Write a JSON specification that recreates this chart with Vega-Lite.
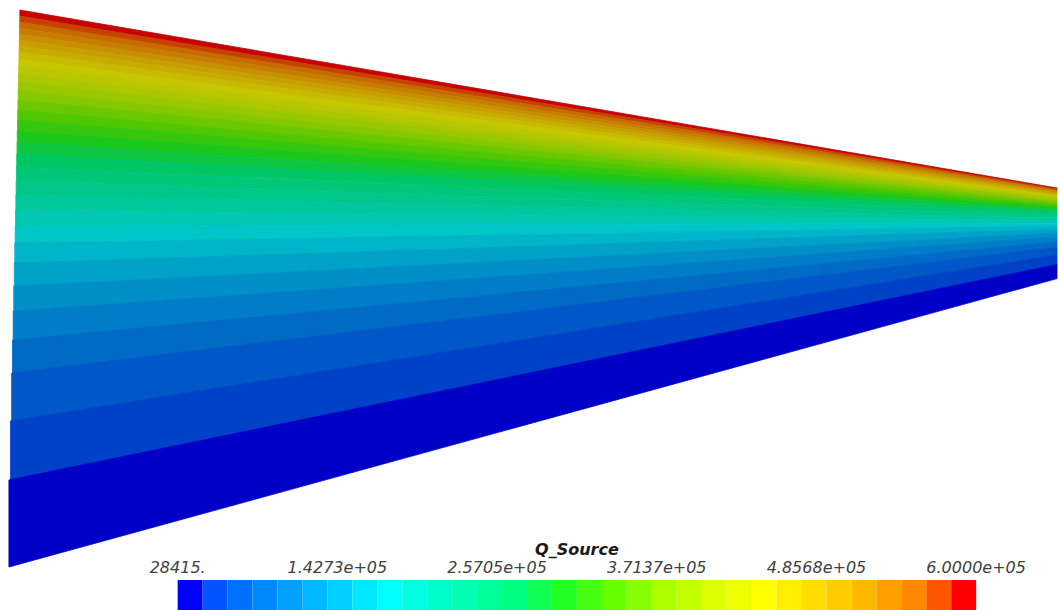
{
  "$schema": "https://vega.github.io/schema/vega-lite/v6.json",
  "width": 1059,
  "height": 610,
  "autosize": {"type": "fit", "contains": "padding"},
  "padding": 0,
  "background": "white",
  "config": {"view": {"stroke": null}},
  "datasets": {
    "bands": [
      {"level": 31, "x": 19.94, "top": 10, "bottom": 16}, {"level": 31, "x": 1059, "top": 188.0, "bottom": 188.98},
      {"level": 30, "x": 19.81, "top": 16, "bottom": 22}, {"level": 30, "x": 1059, "top": 188.98, "bottom": 189.95},
      {"level": 29, "x": 19.68, "top": 22, "bottom": 28}, {"level": 29, "x": 1059, "top": 189.95, "bottom": 190.93},
      {"level": 28, "x": 19.55, "top": 28, "bottom": 34}, {"level": 28, "x": 1059, "top": 190.93, "bottom": 191.9},
      {"level": 27, "x": 19.42, "top": 34, "bottom": 40}, {"level": 27, "x": 1059, "top": 191.9, "bottom": 192.88},
      {"level": 26, "x": 19.29, "top": 40, "bottom": 46}, {"level": 26, "x": 1059, "top": 192.88, "bottom": 193.86},
      {"level": 25, "x": 19.16, "top": 46, "bottom": 52}, {"level": 25, "x": 1059, "top": 193.86, "bottom": 194.83},
      {"level": 24, "x": 19.02, "top": 52, "bottom": 59}, {"level": 24, "x": 1059, "top": 194.83, "bottom": 195.97},
      {"level": 23, "x": 18.87, "top": 59, "bottom": 66}, {"level": 23, "x": 1059, "top": 195.97, "bottom": 197.11},
      {"level": 22, "x": 18.71, "top": 66, "bottom": 74}, {"level": 22, "x": 1059, "top": 197.11, "bottom": 198.41},
      {"level": 21, "x": 18.53, "top": 74, "bottom": 82}, {"level": 21, "x": 1059, "top": 198.41, "bottom": 199.71},
      {"level": 20, "x": 18.35, "top": 82, "bottom": 91}, {"level": 20, "x": 1059, "top": 199.71, "bottom": 201.18},
      {"level": 19, "x": 18.16, "top": 91, "bottom": 100}, {"level": 19, "x": 1059, "top": 201.18, "bottom": 202.64},
      {"level": 18, "x": 17.95, "top": 100, "bottom": 110}, {"level": 18, "x": 1059, "top": 202.64, "bottom": 204.27},
      {"level": 17, "x": 17.74, "top": 110, "bottom": 120}, {"level": 17, "x": 1059, "top": 204.27, "bottom": 205.89},
      {"level": 16, "x": 17.51, "top": 120, "bottom": 131}, {"level": 16, "x": 1059, "top": 205.89, "bottom": 207.68},
      {"level": 15, "x": 17.27, "top": 131, "bottom": 142}, {"level": 15, "x": 1059, "top": 207.68, "bottom": 209.47},
      {"level": 14, "x": 17.03, "top": 142, "bottom": 154}, {"level": 14, "x": 1059, "top": 209.47, "bottom": 211.42},
      {"level": 13, "x": 16.76, "top": 154, "bottom": 167}, {"level": 13, "x": 1059, "top": 211.42, "bottom": 213.54},
      {"level": 12, "x": 16.47, "top": 167, "bottom": 181}, {"level": 12, "x": 1059, "top": 213.54, "bottom": 215.81},
      {"level": 11, "x": 16.17, "top": 181, "bottom": 195}, {"level": 11, "x": 1059, "top": 215.81, "bottom": 218.09},
      {"level": 10, "x": 15.85, "top": 195, "bottom": 210}, {"level": 10, "x": 1059, "top": 218.09, "bottom": 220.53},
      {"level": 9, "x": 15.52, "top": 210, "bottom": 226}, {"level": 9, "x": 1059, "top": 220.53, "bottom": 223.13},
      {"level": 8, "x": 15.16, "top": 226, "bottom": 243}, {"level": 8, "x": 1059, "top": 223.13, "bottom": 225.9},
      {"level": 7, "x": 14.76, "top": 243, "bottom": 263}, {"level": 7, "x": 1059, "top": 225.9, "bottom": 229.15},
      {"level": 6, "x": 14.3, "top": 263, "bottom": 286}, {"level": 6, "x": 1059, "top": 229.15, "bottom": 232.89},
      {"level": 5, "x": 13.78, "top": 286, "bottom": 311}, {"level": 5, "x": 1059, "top": 232.89, "bottom": 236.96},
      {"level": 4, "x": 13.2, "top": 311, "bottom": 340}, {"level": 4, "x": 1059, "top": 236.96, "bottom": 241.68},
      {"level": 3, "x": 12.54, "top": 340, "bottom": 373}, {"level": 3, "x": 1059, "top": 241.68, "bottom": 247.05},
      {"level": 2, "x": 11.66, "top": 373, "bottom": 421}, {"level": 2, "x": 1059, "top": 247.05, "bottom": 254.85},
      {"level": 1, "x": 10.51, "top": 421, "bottom": 480}, {"level": 1, "x": 1059, "top": 254.85, "bottom": 264.45},
      {"level": 0, "x": 8.94, "top": 480, "bottom": 567}, {"level": 0, "x": 1059, "top": 264.45, "bottom": 278.6}
    ],
    "cells": [
      {"level": 0, "lo": 28415, "hi": 46277.03},
      {"level": 1, "lo": 46277.03, "hi": 64139.06},
      {"level": 2, "lo": 64139.06, "hi": 82001.09},
      {"level": 3, "lo": 82001.09, "hi": 99863.13},
      {"level": 4, "lo": 99863.13, "hi": 117725.16},
      {"level": 5, "lo": 117725.16, "hi": 135587.19},
      {"level": 6, "lo": 135587.19, "hi": 153449.22},
      {"level": 7, "lo": 153449.22, "hi": 171311.25},
      {"level": 8, "lo": 171311.25, "hi": 189173.28},
      {"level": 9, "lo": 189173.28, "hi": 207035.31},
      {"level": 10, "lo": 207035.31, "hi": 224897.34},
      {"level": 11, "lo": 224897.34, "hi": 242759.38},
      {"level": 12, "lo": 242759.38, "hi": 260621.41},
      {"level": 13, "lo": 260621.41, "hi": 278483.44},
      {"level": 14, "lo": 278483.44, "hi": 296345.47},
      {"level": 15, "lo": 296345.47, "hi": 314207.5},
      {"level": 16, "lo": 314207.5, "hi": 332069.53},
      {"level": 17, "lo": 332069.53, "hi": 349931.56},
      {"level": 18, "lo": 349931.56, "hi": 367793.59},
      {"level": 19, "lo": 367793.59, "hi": 385655.63},
      {"level": 20, "lo": 385655.63, "hi": 403517.66},
      {"level": 21, "lo": 403517.66, "hi": 421379.69},
      {"level": 22, "lo": 421379.69, "hi": 439241.72},
      {"level": 23, "lo": 439241.72, "hi": 457103.75},
      {"level": 24, "lo": 457103.75, "hi": 474965.78},
      {"level": 25, "lo": 474965.78, "hi": 492827.81},
      {"level": 26, "lo": 492827.81, "hi": 510689.84},
      {"level": 27, "lo": 510689.84, "hi": 528551.88},
      {"level": 28, "lo": 528551.88, "hi": 546413.91},
      {"level": 29, "lo": 546413.91, "hi": 564275.94},
      {"level": 30, "lo": 564275.94, "hi": 582137.97},
      {"level": 31, "lo": 582137.97, "hi": 600000}
    ],
    "ticks": [
      {"value": 28415, "label": "28415."},
      {"value": 142732, "label": "1.4273e+05"},
      {"value": 257049, "label": "2.5705e+05"},
      {"value": 371366, "label": "3.7137e+05"},
      {"value": 485683, "label": "4.8568e+05"},
      {"value": 600000, "label": "6.0000e+05"}
    ]
  },
  "layer": [
    {
      "data": {"name": "bands"},
      "mark": {"type": "area", "interpolate": "linear", "strokeWidth": 0.8},
      "encoding": {
        "x": {"field": "x", "type": "quantitative", "scale": {"domain": [0, 1059], "nice": false, "zero": false}, "axis": null},
        "y": {"field": "top", "type": "quantitative", "stack": null, "scale": {"domain": [0, 610], "reverse": true, "nice": false, "zero": false}, "axis": null},
        "y2": {"field": "bottom"},
        "color": {
          "field": "level", "type": "ordinal", "legend": null,
          "scale": {
            "domain": [0,1,2,3,4,5,6,7,8,9,10,11,12,13,14,15,16,17,18,19,20,21,22,23,24,25,26,27,28,29,30,31],
            "range": ["#0000C7","#0042C7","#0057C7","#006AC7","#007DC7","#0090C7","#00A2C7","#00B5C7","#00C7C7","#00C7AF","#00C79C","#00C789","#00C777","#00C764","#0DC742","#1BC71B","#35C70D","#50C700","#6AC700","#85C700","#99C700","#ACC700","#BAC700","#C7C700","#C7BA00","#C7AC00","#C79F00","#C79000","#C77D00","#C76A00","#C74200","#C70000"]
          }
        },
        "stroke": {
          "field": "level", "type": "ordinal", "legend": null,
          "scale": {
            "domain": [0,1,2,3,4,5,6,7,8,9,10,11,12,13,14,15,16,17,18,19,20,21,22,23,24,25,26,27,28,29,30,31],
            "range": ["#0000C7","#0042C7","#0057C7","#006AC7","#007DC7","#0090C7","#00A2C7","#00B5C7","#00C7C7","#00C7AF","#00C79C","#00C789","#00C777","#00C764","#0DC742","#1BC71B","#35C70D","#50C700","#6AC700","#85C700","#99C700","#ACC700","#BAC700","#C7C700","#C7BA00","#C7AC00","#C79F00","#C79000","#C77D00","#C76A00","#C74200","#C70000"]
          }
        }
      }
    },
    {
      "layer": [
        {
          "data": {"name": "cells"},
          "mark": {"type": "rect"},
          "encoding": {
            "x": {"field": "lo", "type": "quantitative", "scale": {"domain": [-98762.66, 657872.98], "nice": false, "zero": false}, "axis": null},
            "x2": {"field": "hi"},
            "y": {"datum": 0, "type": "quantitative", "scale": {"domain": [0, 20.3333], "nice": false, "zero": false}, "axis": null},
            "y2": {"datum": 1},
            "color": {
              "field": "level", "type": "ordinal", "legend": null,
              "scale": {
                "domain": [0,1,2,3,4,5,6,7,8,9,10,11,12,13,14,15,16,17,18,19,20,21,22,23,24,25,26,27,28,29,30,31],
                "range": ["#0000FF","#0055FF","#0070FF","#0088FF","#00A0FF","#00B8FF","#00D0FF","#00E8FF","#00FFFF","#00FFE0","#00FFC8","#00FFB0","#00FF98","#00FF80","#11FF55","#22FF22","#44FF11","#66FF00","#88FF00","#AAFF00","#C4FF00","#DDFF00","#EEFF00","#FFFF00","#FFEE00","#FFDD00","#FFCC00","#FFB800","#FFA000","#FF8800","#FF5500","#FF0000"]
              }
            }
          }
        },
        {
          "data": {"name": "ticks"},
          "mark": {"type": "text", "align": "center", "baseline": "alphabetic", "font": "DejaVu Sans", "fontStyle": "italic", "fontSize": 16, "color": "#404040"},
          "encoding": {
            "x": {"field": "value", "type": "quantitative"},
            "y": {"datum": 1.223, "type": "quantitative"},
            "text": {"field": "label"}
          }
        },
        {
          "data": {"values": [{"name": "Q_Source"}]},
          "mark": {"type": "text", "align": "center", "baseline": "alphabetic", "font": "DejaVu Sans", "fontStyle": "italic", "fontWeight": "bold", "fontSize": 16, "color": "#1a1a1a"},
          "encoding": {
            "x": {"datum": 314207.5, "type": "quantitative"},
            "y": {"datum": 1.833, "type": "quantitative"},
            "text": {"field": "name"}
          }
        }
      ]
    }
  ],
  "resolve": {"scale": {"x": "independent", "y": "independent", "color": "independent"}}
}
